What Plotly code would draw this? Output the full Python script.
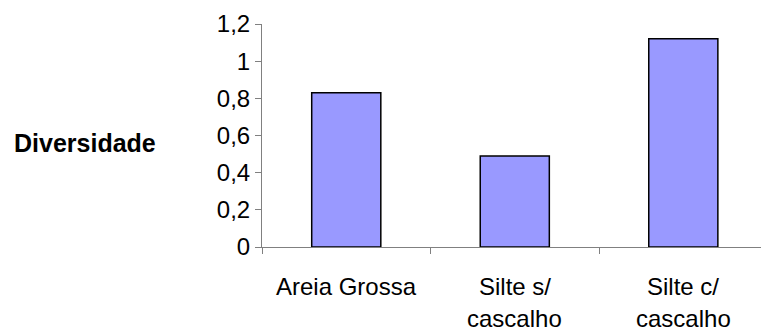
import plotly.graph_objects as go

# Diversity index by sediment type
categories = ["Areia Grossa", "Silte s/\ncascalho", "Silte c/\ncascalho"]
diversidade = [0.83, 0.49, 1.12]
y_ticks = [0, 0.2, 0.4, 0.6, 0.8, 1.0, 1.2]

FONT = "Liberation Sans, Arial, sans-serif"
AXIS_GRAY = "#808080"

fig = go.Figure(
    go.Bar(
        x=list(range(len(categories))),
        y=diversidade,
        marker=dict(color="#9999FF", line=dict(color="#000000", width=1.5)),
        width=0.41,
    )
)

fig.update_layout(
    width=761,
    height=331,
    margin=dict(l=262, r=0, t=24, b=84),
    paper_bgcolor="white",
    plot_bgcolor="white",
    separators=", ",
    showlegend=False,
    font=dict(family=FONT, size=23, color="#000000"),
)

fig.update_xaxes(
    range=[-0.5, 2.461],
    tickmode="array",
    tickvals=[-0.5, 0.5, 1.5, 2.5],
    ticktext=["", "", "", ""],
    ticks="outside",
    ticklen=6,
    tickcolor=AXIS_GRAY,
    showline=True,
    linecolor=AXIS_GRAY,
    linewidth=1,
    showgrid=False,
    zeroline=False,
)

fig.update_yaxes(
    range=[0, 1.2],
    tickvals=y_ticks,
    ticks="outside",
    ticklen=6,
    tickcolor=AXIS_GRAY,
    showline=True,
    linecolor=AXIS_GRAY,
    linewidth=1,
    showgrid=False,
    zeroline=False,
    tickfont=dict(size=24),
)

# Category labels below the axis, one annotation per text line
line_offsets = [-39, -71]
for i, label in enumerate(categories):
    for j, line in enumerate(label.split("\n")):
        fig.add_annotation(
            x=i, y=0, xref="x", yref="paper",
            text=line, showarrow=False,
            xanchor="center", yanchor="middle",
            yshift=line_offsets[j],
            borderpad=0,
            font=dict(family=FONT, size=24),
        )

# Y-axis title, horizontal and bold
fig.add_annotation(
    x=0, y=0.466, xref="paper", yref="paper",
    text="<b>Diversidade</b>", showarrow=False,
    xanchor="right", yanchor="middle", xshift=-104,
    font=dict(family=FONT, size=25),
)

fig.write_html("out.html")
